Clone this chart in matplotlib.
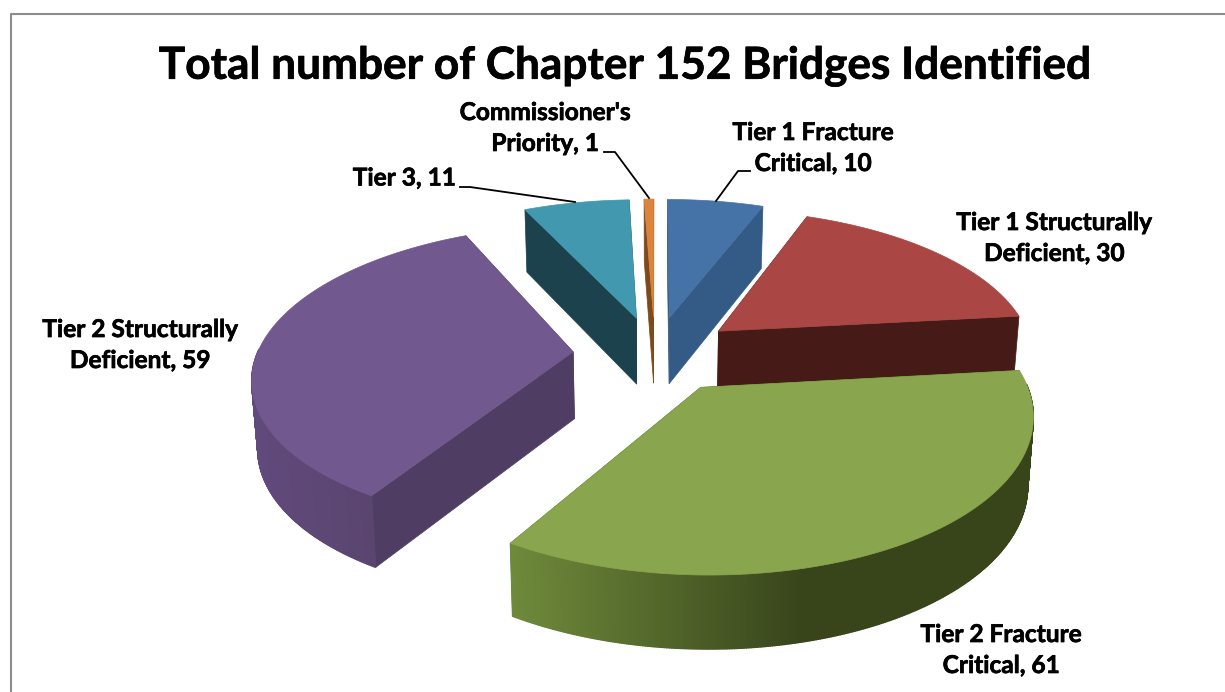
import numpy as np
import matplotlib
matplotlib.use("Agg")
import matplotlib.pyplot as plt
import matplotlib.patheffects as pe
from matplotlib.colors import to_rgb

title = "Total number of Chapter 152 Bridges Identified"
categories = ["Tier 1 Fracture\nCritical", "Tier 1 Structurally\nDeficient", "Tier 2 Fracture\nCritical",
              "Tier 2 Structurally\nDeficient", "Tier 3", "Commissioner's\nPriority"]
values = [10, 30, 61, 59, 11, 1]

top_colors = ["#4572a7", "#aa4643", "#89a54e", "#71588f", "#4198af", "#db843d"]
cut_colors = ["#345a86", "#461b17", "#46561f", "#4f3d63", "#1b424d", "#7c4a1c"]
side_light = ["#4572a7", "#6b2a27", "#6f8a3b", "#614a7c", "#2c6a7a", "#9a5c24"]
side_dark  = ["#345a86", "#461b17", "#38451b", "#5a456f", "#1b424d", "#7c4a1c"]

# projection parameters (pixels)
CX, CY, RX, RY, K, EXPL, DEPTH, DSCALE, BOTTOM = 655, 354, 316, 147, 0.155, 0.26, 67, 0.45, 0.985


def proj(u, v, down=False):
    s = 1 / (1 + K * v)
    x = CX + RX * u * s
    y = CY - RY * v * s
    if down:
        y = y + DEPTH * (1 + (s - 1) * DSCALE)
        x = CX + (x - CX) * BOTTOM
    return x, y


fig = plt.figure(figsize=(12.25, 6.92), dpi=100, facecolor="white")
ax = fig.add_axes([0, 0, 1, 1])
ax.set_xlim(0, 1225)
ax.set_ylim(692, 0)
ax.axis("off")

# chart frame
ax.plot([11, 11, 1225], [692, 14, 14], color="#8c8c8c", lw=1.5, solid_capstyle="butt")

total = sum(values)
edges = np.concatenate([[0], np.cumsum(values)]) / total * 2 * np.pi
order = [5, 4, 0, 1, 3, 2]

for layer, i in enumerate(order):
    z = 2 + layer
    a0, a1 = edges[i], edges[i + 1]
    mid = (a0 + a1) / 2
    ou, ov = EXPL * np.sin(mid), EXPL * np.cos(mid)
    th = np.linspace(a0, a1, max(8, int((a1 - a0) * 160)))
    arc_u, arc_v = ou + np.sin(th), ov + np.cos(th)
    tx, ty = proj(arc_u, arc_v)
    bx, by = proj(arc_u, arc_v, True)
    ax_, ay_ = proj(ou, ov)
    dx_, dy_ = proj(ou, ov, True)
    # cut faces
    for k in (0, -1):
        ax.fill([ax_, tx[k], bx[k], dx_], [ay_, ty[k], by[k], dy_], facecolor=cut_colors[i],
                edgecolor=cut_colors[i], lw=0.5, zorder=z)
    # outer wall, only where it faces the viewer, shaded left to right on screen
    xmin, xmax = tx.min(), tx.max()
    c0, c1 = np.array(to_rgb(side_light[i])), np.array(to_rgb(side_dark[i]))
    for j in range(len(th) - 1):
        if np.cos(th[j]) > 0.02 and np.cos(th[j + 1]) > 0.02:
            continue
        f = np.clip(((tx[j] + tx[j + 1]) / 2 - xmin) / max(xmax - xmin, 1) * 1.8, 0, 1)
        col = c0 + (c1 - c0) * f
        ax.fill([tx[j], tx[j + 1], bx[j + 1], bx[j]], [ty[j], ty[j + 1], by[j + 1], by[j]],
                facecolor=col, edgecolor=col, lw=1.0, zorder=z)
    # top face
    ax.fill(np.r_[ax_, tx], np.r_[ay_, ty], facecolor=top_colors[i], edgecolor=top_colors[i], lw=0.5, zorder=z)

font = "Lato"
heavier = [pe.withStroke(linewidth=0.5, foreground="black")]
ax.text(625, 66, title, ha="center", va="center", fontsize=31.8, fontweight="bold", family=font, color="black",
        path_effects=heavier)

label_pos = [(813, 148), (1054, 238), (1001, 650), (140, 345), (404, 178), (545, 128)]
for name, val, (lx, ly) in zip(categories, values, label_pos):
    ax.text(lx, ly, f"{name}, {val}", ha="center", va="center", fontsize=17.6, fontweight="bold",
            family=font, color="black", linespacing=1.42, zorder=20, path_effects=heavier)

# leader lines
ax.plot([460, 470, 575], [187, 187, 202], color="black", lw=1.3, zorder=20)
ax.plot([604, 615, 649], [152, 152, 198], color="black", lw=1.3, zorder=20)
ax.plot([716, 738, 750], [201, 171, 171], color="black", lw=1.3, zorder=20)

fig.savefig("out.png", dpi=100, facecolor="white")
